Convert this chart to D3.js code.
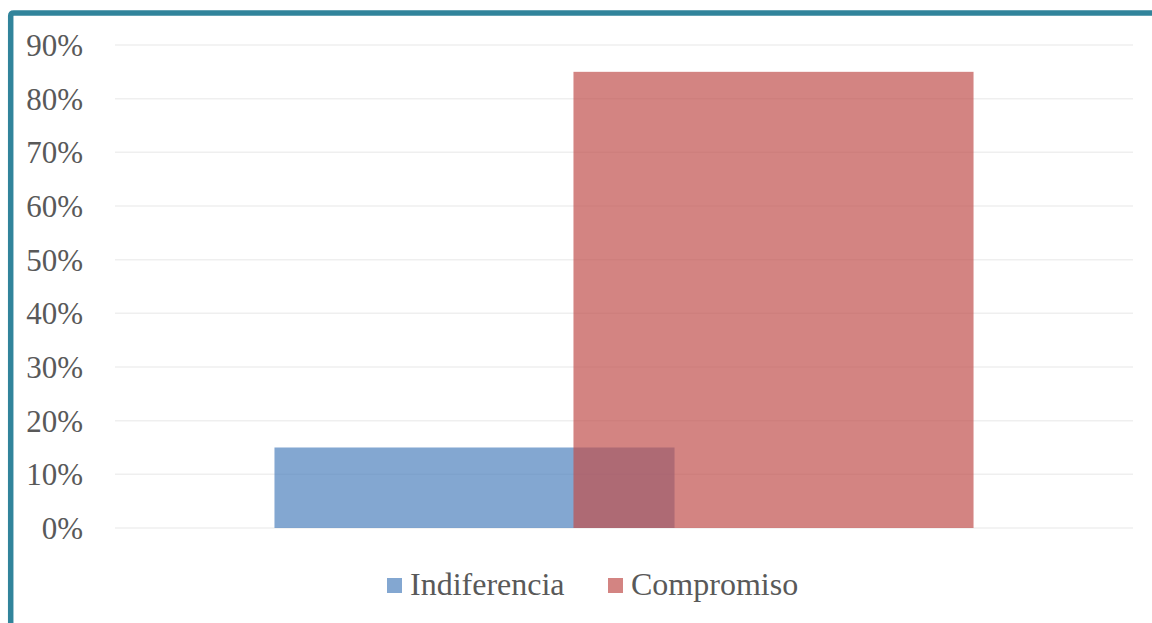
<!DOCTYPE html>
<html><head><meta charset="utf-8">
<script src="https://cdn.jsdelivr.net/npm/d3@7/dist/d3.min.js"></script>
<style>body{margin:0;background:#fff}svg{display:block}</style>
</head><body>
<svg id="c" width="1152" height="623"></svg>
<script>
const categories = ["Total"];
const seriesNames = ["Indiferencia", "Compromiso"];
const seriesValues = [0.15, 0.85];
const colors = ["rgba(79,129,189,0.7)", "rgba(192,80,77,0.7)"];
const yTicks = [0,0.1,0.2,0.3,0.4,0.5,0.6,0.7,0.8,0.9];

const svg = d3.select("#c");
const W = 1152, H = 623;
const L = 115, R = 1133, T = 45, B = 528;

const x0 = d3.scaleBand().domain(categories).range([L, R]).padding(0);
const y = d3.scaleLinear().domain([0, 0.9]).range([B, T]);
const center = x0(categories[0]) + x0.bandwidth()/2;
const x1 = d3.scaleBand().domain(seriesNames).range([center - 299, center + 299]).padding(0);
const barW = x1.bandwidth() * 1.338;

// gridlines
svg.append("g").selectAll("line").data(yTicks).join("line")
  .attr("x1", L).attr("x2", R)
  .attr("y1", d => y(d)).attr("y2", d => y(d))
  .attr("stroke", "#efefef").attr("stroke-width", 1.5);

// axis labels
const yAxis = d3.axisLeft(y).tickValues(yTicks).tickFormat(d3.format(".0%")).tickSize(0).tickPadding(0);
const ga = svg.append("g").attr("transform", "translate(83,0)").call(yAxis);
ga.select(".domain").remove();
ga.selectAll("text").attr("fill", "#595959")
  .style("font-family", "'Liberation Serif','Times New Roman',serif").style("font-size", "31px")
  .attr("dy", "0.34em");

// bars
svg.append("g").selectAll("rect").data(seriesNames).join("rect")
  .attr("x", (s) => x1(s) + x1.bandwidth()/2 - barW/2)
  .attr("width", barW)
  .attr("y", (s,i) => y(seriesValues[i]))
  .attr("height", (s,i) => y(0) - y(seriesValues[i]))
  .attr("fill", (s,i) => colors[i]);

// legend
const lg = svg.append("g");
const legendPos = [387, 608];
seriesNames.forEach((s,i) => {
  lg.append("rect").attr("x", legendPos[i]).attr("y", 578).attr("width", 15).attr("height", 15).attr("fill", colors[i]);
  lg.append("text").attr("x", legendPos[i] + 23).attr("y", 595).text(s)
    .attr("fill", "#595959").style("font-family", "'Liberation Serif','Times New Roman',serif").style("font-size", "32px");
});

// frame
svg.append("path").attr("d", `M10.7,${H+5} L10.7,16 Q10.7,13 13.7,13 L${W+5},13`)
  .attr("fill", "none").attr("stroke", "#31849B").attr("stroke-width", 5.5);
</script>
</body></html>
